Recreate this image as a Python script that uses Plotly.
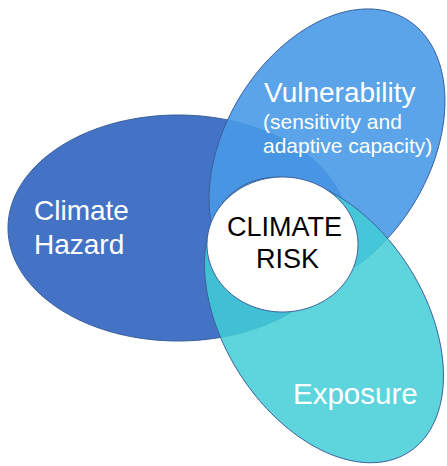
import numpy as np
import plotly.graph_objects as go

# Diagram components
names = ["Climate Hazard", "Vulnerability", "Exposure"]
fill_colors = ["rgba(68,114,196,1)", "rgba(73,154,231,0.9)", "rgba(66,206,214,0.85)"]
line_color = "#3A5F9E"

# ellipse geometry (pixel space): center x, center y, semi-major, semi-minor, angle (deg, screen)
ell_cx = [178, 327, 324]
ell_cy = [228, 150, 320]
ell_a = [170, 153, 157]
ell_b = [113, 102, 100]
ell_ang = [0, -58.7, 57.3]

center_label = ["CLIMATE", "RISK"]

W, H = 447, 466


def ellipse_path(cx, cy, a, b, ang_deg, n=180):
    t = np.linspace(0, 2 * np.pi, n, endpoint=False)
    th = np.deg2rad(ang_deg)
    x = cx + a * np.cos(t) * np.cos(th) - b * np.sin(t) * np.sin(th)
    y = cy + a * np.cos(t) * np.sin(th) + b * np.sin(t) * np.cos(th)
    pts = [f"{xi:.2f},{yi:.2f}" for xi, yi in zip(x, y)]
    return "M " + " L ".join(pts) + " Z"


fig = go.Figure()
fig.add_trace(go.Scatter(x=[0, W], y=[0, H], mode="markers",
                         marker=dict(opacity=0), hoverinfo="skip", showlegend=False))

shapes = []
for i in range(3):
    shapes.append(dict(type="path",
                       path=ellipse_path(ell_cx[i], ell_cy[i], ell_a[i], ell_b[i], ell_ang[i]),
                       xref="x", yref="y", fillcolor=fill_colors[i],
                       line=dict(color=line_color, width=1), layer="above"))
shapes.append(dict(type="path", path=ellipse_path(282.5, 244.5, 75.5, 67.5, 0),
                   xref="x", yref="y", fillcolor="white",
                   line=dict(color=line_color, width=1), layer="above"))

font = "Liberation Sans, Arial, sans-serif"
ann = []
def add(text, x, y, size, color="white", xanchor="left"):
    ann.append(dict(text=text, x=x, y=y, xref="x", yref="y", showarrow=False,
                    xanchor=xanchor, yanchor="middle",
                    font=dict(family=font, size=size, color=color)))

add("Climate", 32, 210, 28)
add("Hazard", 32, 244.5, 28)
add("Vulnerability", 262, 92, 28)
add("(sensitivity and", 261, 121, 21)
add("adaptive capacity)", 261, 145, 21)
add("Exposure", 291, 393, 29.5)
add(center_label[0], 284, 226.5, 27, color="black", xanchor="center")
add(center_label[1], 287, 259, 27, color="black", xanchor="center")

fig.update_layout(width=W, height=H, margin=dict(l=0, r=0, t=0, b=0),
                  paper_bgcolor="white", plot_bgcolor="white",
                  shapes=shapes, annotations=ann, showlegend=False,
                  xaxis=dict(range=[0, W], visible=False, fixedrange=True),
                  yaxis=dict(range=[H, 0], visible=False, fixedrange=True))

fig.write_html("out.html", config={"displayModeBar": False},
               post_script="document.body.style.margin='0';document.body.style.overflow='hidden';")
